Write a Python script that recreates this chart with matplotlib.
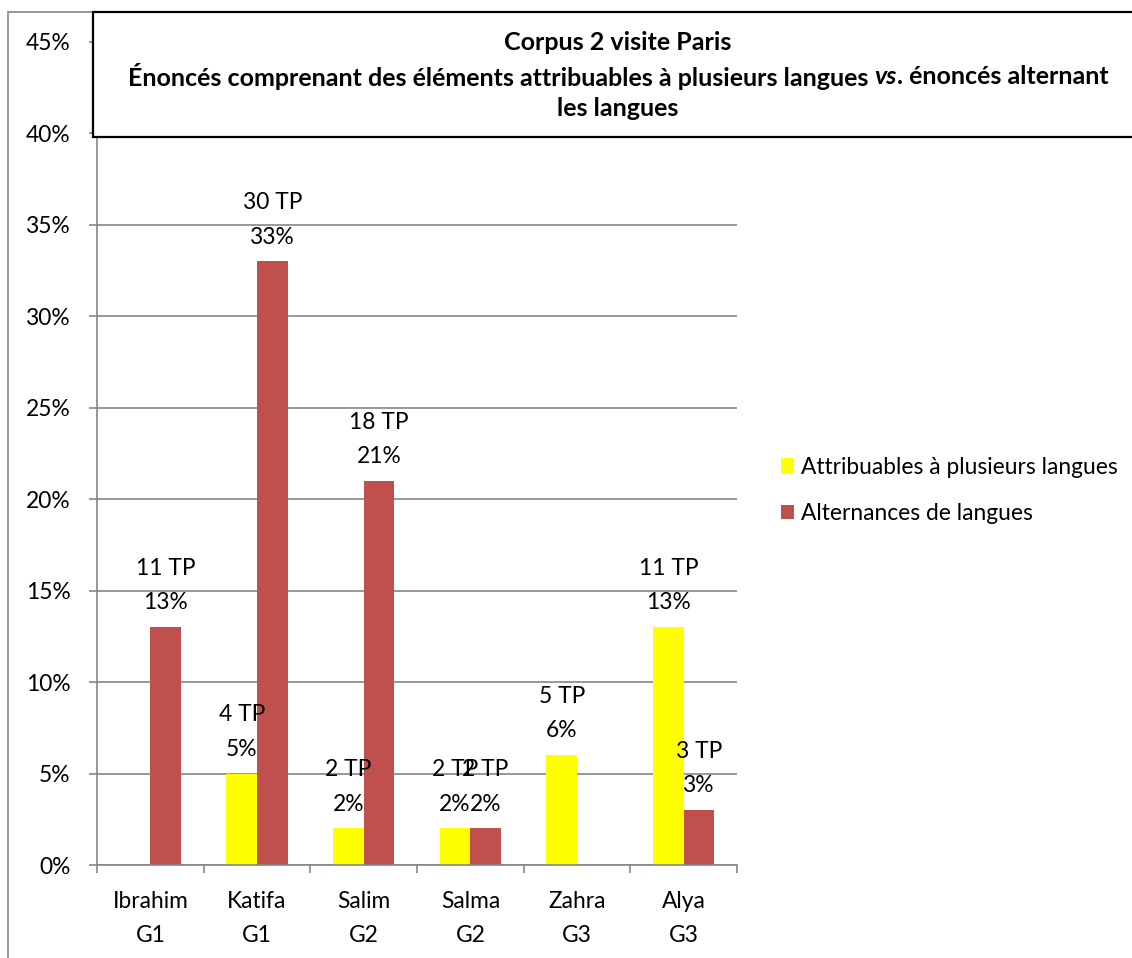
import numpy as np
import matplotlib
matplotlib.use("Agg")
import matplotlib.pyplot as plt
from matplotlib.patches import Rectangle

plt.rcParams['font.family'] = ['Lato', 'DejaVu Sans']

# données
eleves = ['Ibrahim\nG1', 'Katifa\nG1', 'Salim\nG2', 'Salma\nG2', 'Zahra\nG3', 'Alya\nG3']
attribuables = [0, 5, 2, 2, 6, 13]
attribuables_tp = [0, 4, 2, 2, 5, 11]
alternances = [13, 33, 21, 2, 0, 3]
alternances_tp = [11, 30, 18, 2, 0, 3]
serie_noms = ['Attribuables à plusieurs langues', 'Alternances de langues']

JAUNE = '#FFFF00'
ROUGE = '#C0504D'
GRIS = '#868686'
FS = 16.4

W, H = 1132, 958
fig = plt.figure(figsize=(W / 100, H / 100), dpi=100)
ax = fig.add_axes([97 / W, 1 - 865 / H, (737 - 97) / W, (865 - 42) / H])

x = np.arange(len(eleves))
larg = 0.286
b1 = ax.bar(x - larg / 2, attribuables, larg, color=JAUNE, label=serie_noms[0], zorder=2)
b2 = ax.bar(x + larg / 2, alternances, larg, color=ROUGE, label=serie_noms[1], zorder=2)

# étiquettes de données
for barres, vals, tps in [(b1, attribuables, attribuables_tp), (b2, alternances, alternances_tp)]:
    for r, v, tp in zip(barres, vals, tps):
        if v == 0:
            continue
        ax.annotate(f'{tp} TP\n{v}%', (r.get_x() + r.get_width() / 2, v),
                    xytext=(0, 10), textcoords='offset points', ha='center', va='bottom',
                    fontsize=FS, linespacing=1.78, zorder=4)

ax.set_xlim(-0.5, len(eleves) - 0.5)
ax.set_ylim(0, 45)
ax.set_yticks(np.arange(0, 46, 5))
ax.set_yticklabels([f'{v}%' for v in range(0, 46, 5)])
ax.yaxis.grid(True, color=GRIS, lw=1.2, zorder=0)
ax.set_axisbelow(True)
ax.set_xticks(x)
ax.set_xticklabels(eleves, linespacing=1.72)
ax.set_xticks(np.arange(-0.5, len(eleves), 1), minor=True)
ax.tick_params(axis='x', which='major', length=0, pad=19, labelsize=FS)
ax.tick_params(axis='x', which='minor', length=6, width=1.2, color=GRIS, direction='out')
ax.tick_params(axis='y', length=6, width=1.2, color=GRIS, pad=13, labelsize=FS)
for s in ['top', 'right']:
    ax.spines[s].set_visible(False)
for s in ['left', 'bottom']:
    ax.spines[s].set_color(GRIS)
    ax.spines[s].set_linewidth(1.2)

leg = ax.legend(loc='upper left', bbox_to_anchor=(760 / W, 1 - 436 / H), bbox_transform=fig.transFigure,
                frameon=False, fontsize=FS, handlelength=0.58, handleheight=0.58,
                handletextpad=0.33, labelspacing=1.12)

# cadre gris de la zone de graphique
fig.patches.append(Rectangle((8 / W, -0.05), 1.2, 1.05 - 12 / H, transform=fig.transFigure,
                             fill=False, edgecolor=GRIS, lw=1.2, zorder=0))

# boîte du titre
fig.patches.append(Rectangle((93 / W, 1 - 137 / H), 1.1, 125 / H, transform=fig.transFigure,
                             facecolor='white', edgecolor='black', lw=1.6, zorder=5))

cx = 618 / W
fs_t = 18
fig.text(cx, 1 - 43 / H, 'Corpus 2 visite Paris', ha='center', va='center',
         fontsize=fs_t, fontweight='bold', zorder=6)
fig.text(cx, 1 - 109 / H, 'les langues', ha='center', va='center',
         fontsize=fs_t, fontweight='bold', zorder=6)

# ligne 2 avec « vs » en italique
morceaux = [('Énoncés comprenant des éléments attribuables à plusieurs langues ', 'normal'),
            ('vs', 'italic'), ('. énoncés alternant', 'normal')]
rend = fig.canvas.get_renderer()
textes = []
for s, st in morceaux:
    t = fig.text(0, 1 - 77 / H, s, ha='left', va='center', fontsize=fs_t,
                 fontweight='bold', fontstyle=st, zorder=6)
    textes.append(t)
largeurs = [t.get_window_extent(rend).width for t in textes]
x0 = cx * W - sum(largeurs) / 2
for t, w in zip(textes, largeurs):
    t.set_x(x0 / W)
    x0 += w

fig.savefig('out.png', dpi=100)
